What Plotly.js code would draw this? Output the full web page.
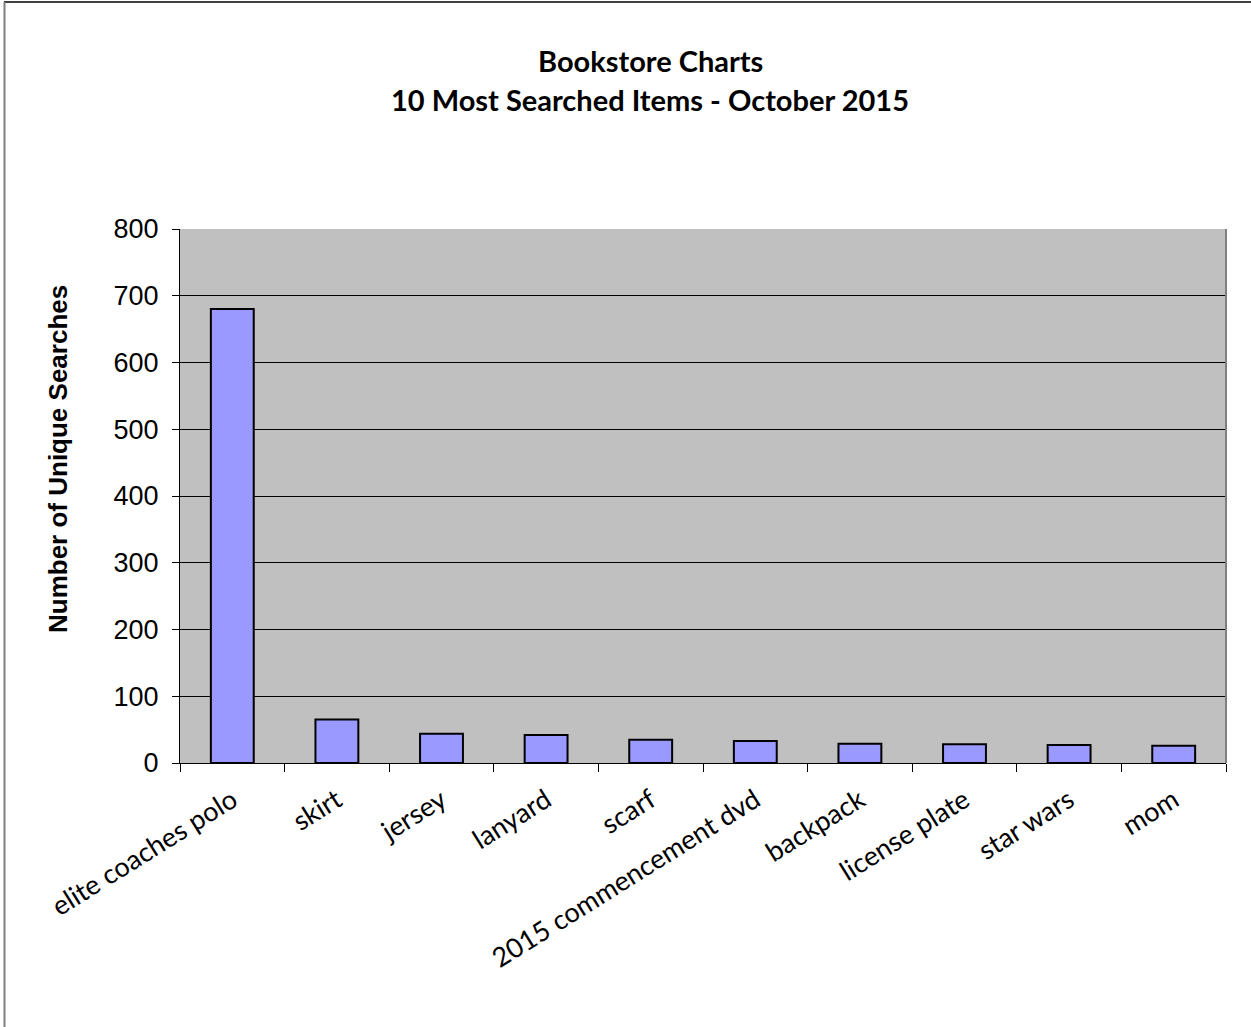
<!DOCTYPE html>
<html>
<head>
<meta charset="utf-8">
<script src="https://cdn.plot.ly/plotly-3.0.1.min.js"></script>
<style>
html,body{margin:0;padding:0;background:#fff;}
#chart{width:1251px;height:1027px;}
</style>
</head>
<body>
<div id="chart"></div>
<script>
const categories = ["elite coaches polo","skirt","jersey","lanyard","scarf","2015 commencement dvd","backpack","license plate","star wars","mom"];
const searches = [680, 65, 44, 42, 35, 33, 29, 28, 27, 26];
const yTicks = [0,100,200,300,400,500,600,700,800];
const titleLine1 = "Bookstore Charts";
const titleLine2 = "10 Most Searched Items - October 2015";
const yTitle = "Number of Unique Searches";

const L = 180, R = 25, T = 229, B = 264, W = 1251, H = 1027;
const pw = W - L - R, ph = H - T - B;
const px = v => (v - L) / pw;
const py = v => (H - B - v) / ph;

const trace = {
  type: 'bar',
  x: categories,
  y: searches,
  width: 0.41,
  marker: {color: '#9999FF', line: {color: '#000000', width: 2}},
  hoverinfo: 'x+y'
};

const layout = {
  width: W, height: H,
  margin: {l: L, r: R, t: T, b: B, pad: 0},
  paper_bgcolor: '#ffffff',
  plot_bgcolor: '#C0C0C0',
  showlegend: false,
  bargap: 0.59,
  xaxis: {
    type: 'category',
    showgrid: false,
    zeroline: false,
    showline: true, linecolor: '#000', linewidth: 1,
    ticks: 'outside', ticklen: 8, tickcolor: '#000', tickson: 'boundaries',
    tickangle: -32,
    ticklabelstandoff: 10,
    tickfont: {family: 'Lato, "Open Sans", sans-serif', size: 27, color: '#000'},
    automargin: false
  },
  yaxis: {
    range: [0, 800],
    tickvals: yTicks,
    ticktext: yTicks.map(String),
    showgrid: true, gridcolor: '#000', gridwidth: 1,
    zeroline: false,
    showline: true, linecolor: '#000', linewidth: 1,
    ticks: 'outside', ticklen: 7, tickcolor: '#000',
    ticklabelstandoff: 8,
    tickfont: {family: '"Liberation Sans", Arial, sans-serif', size: 27, color: '#000'},
    automargin: false
  },
  annotations: [
    {xref: 'paper', yref: 'paper', x: px(650), y: py(60), xanchor: 'center', yanchor: 'middle', showarrow: false,
     text: '<b>' + titleLine1 + '</b>', font: {family: 'Lato, "Open Sans", sans-serif', size: 29, color: '#000'}},
    {xref: 'paper', yref: 'paper', x: px(650), y: py(99), xanchor: 'center', yanchor: 'middle', showarrow: false,
     text: '<b>' + titleLine2 + '</b>', font: {family: 'Lato, "Open Sans", sans-serif', size: 29, color: '#000'}},
    {xref: 'paper', yref: 'paper', x: px(58), y: py(459), xanchor: 'center', yanchor: 'middle', showarrow: false, textangle: -90,
     text: '<b>' + yTitle + '</b>', font: {family: '"Liberation Sans", Arial, sans-serif', size: 26, color: '#000'}}
  ],
  shapes: [
    {type: 'line', xref: 'paper', yref: 'paper', x0: px(4), x1: px(1252), y0: py(2), y1: py(2), line: {color: '#404040', width: 2}},
    {type: 'line', xref: 'paper', yref: 'paper', x0: px(4.5), x1: px(4.5), y0: py(2), y1: py(1028), line: {color: '#808080', width: 2}},
    {type: 'line', xref: 'paper', yref: 'paper', x0: 1, x1: 1, y0: 0, y1: 1, line: {color: '#808080', width: 2}}
  ]
};

Plotly.newPlot('chart', [trace], layout, {displayModeBar: false, staticPlot: true});
</script>
</body>
</html>
